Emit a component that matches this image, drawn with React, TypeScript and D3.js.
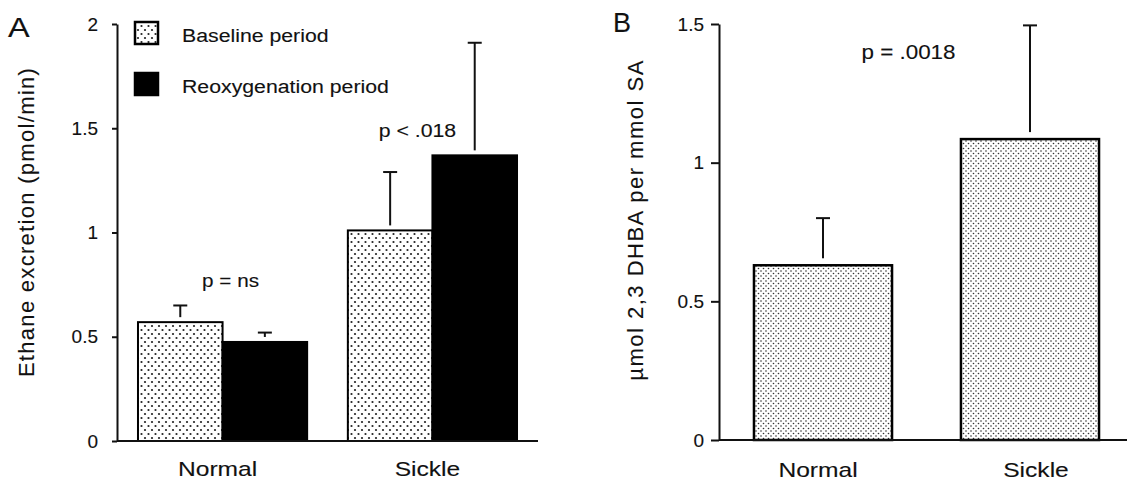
import React, { useEffect, useRef } from 'react';
import * as d3 from 'd3';

// Panel A: ethane excretion, two periods per group
const categories = ['Normal', 'Sickle'];
const seriesNames = ['Baseline period', 'Reoxygenation period'];
const baselineMean = [0.57, 1.01];
const baselineErr = [0.08, 0.28];
const reoxMean = [0.475, 1.37];
const reoxErr = [0.045, 0.54];
const ticksA = [0, 0.5, 1, 1.5, 2];
const pLabelsA = ['p = ns', 'p < .018'];

// Panel B: 2,3 DHBA per mmol SA
const dhbaMean = [0.63, 1.085];
const dhbaErr = [0.17, 0.41];
const ticksB = [0, 0.5, 1, 1.5];
const pLabelB = 'p = .0018';

const W = 1130;
const H = 481;
const FONT = '"Liberation Sans", Arial, Helvetica, sans-serif';
const INK = '#111';

// horizontal text, stretched a little like the scanned figure
const addText = (g, x, y, txt, size, sx = 1.15, anchor = 'start') =>
  g.append('text')
    .attr('transform', `translate(${x},${y}) scale(${sx},1)`)
    .attr('text-anchor', anchor)
    .style('font-family', FONT)
    .style('font-size', `${size}px`)
    .attr('fill', INK)
    .attr('stroke', INK)
    .attr('stroke-width', 0.12)
    .text(txt);

const App = () => {
  const svgRef = useRef<SVGSVGElement | null>(null);

  useEffect(() => {
    if (!svgRef.current) return;
    const svg = d3.select(svgRef.current);
    svg.selectAll('*').remove();

    // stipple fills
    const defs = svg.append('defs');
    const dotsA = defs.append('pattern')
      .attr('id', 'dotsA')
      .attr('patternUnits', 'userSpaceOnUse')
      .attr('width', 7)
      .attr('height', 8);
    dotsA.append('rect').attr('width', 7).attr('height', 8).attr('fill', '#fff');
    dotsA.append('circle').attr('cx', 1.5).attr('cy', 2).attr('r', 1.1).attr('fill', '#222');
    dotsA.append('circle').attr('cx', 5).attr('cy', 6).attr('r', 1.1).attr('fill', '#222');

    const dotsB = defs.append('pattern')
      .attr('id', 'dotsB')
      .attr('patternUnits', 'userSpaceOnUse')
      .attr('width', 5)
      .attr('height', 5);
    dotsB.append('rect').attr('width', 5).attr('height', 5).attr('fill', '#fff');
    dotsB.append('circle').attr('cx', 1).attr('cy', 1).attr('r', 0.8).attr('fill', '#333');
    dotsB.append('circle').attr('cx', 3.5).attr('cy', 3.5).attr('r', 0.8).attr('fill', '#333');

    const styleAxis = (g, fontSize) => {
      g.select('.domain').attr('stroke', INK).attr('stroke-width', 2);
      g.selectAll('.tick line').attr('stroke', INK).attr('stroke-width', 2);
      g.selectAll('.tick text')
        .attr('fill', INK)
        .attr('stroke', INK)
        .attr('stroke-width', 0.12)
        .style('font-family', FONT)
        .style('font-size', `${fontSize}px`);
    };

    // ---------- Panel A ----------
    const yA = d3.scaleLinear().domain([0, 2]).range([441, 24]);
    const xA = d3.scaleBand()
      .domain(categories)
      .range([117, 538])
      .paddingInner(0.194)
      .paddingOuter(0.1);
    const xSub = d3.scaleBand()
      .domain(seriesNames)
      .range([0, xA.bandwidth()]);

    const rowsA = categories.flatMap((c, i) => [
      { cat: c, s: seriesNames[0], v: baselineMean[i], e: baselineErr[i] },
      { cat: c, s: seriesNames[1], v: reoxMean[i], e: reoxErr[i] },
    ]);

    const gA = svg.append('g');

    // error bars first so bars sit on top
    rowsA.forEach(d => {
      const cx = xA(d.cat) + xSub(d.s) + xSub.bandwidth() / 2;
      const top = yA(d.v + d.e);
      gA.append('line')
        .attr('x1', cx).attr('x2', cx)
        .attr('y1', yA(d.v) - 5).attr('y2', top)
        .attr('stroke', INK).attr('stroke-width', 2);
      gA.append('line')
        .attr('x1', cx - 7).attr('x2', cx + 7)
        .attr('y1', top).attr('y2', top)
        .attr('stroke', INK).attr('stroke-width', 2);
    });

    gA.selectAll('rect.bar')
      .data(rowsA)
      .join('rect')
      .attr('class', 'bar')
      .attr('x', d => xA(d.cat) + xSub(d.s))
      .attr('y', d => yA(d.v))
      .attr('width', xSub.bandwidth())
      .attr('height', d => yA(0) - yA(d.v))
      .attr('fill', d => (d.s === seriesNames[0] ? 'url(#dotsA)' : '#000'))
      .attr('stroke', '#000')
      .attr('stroke-width', 2);

    const axA = gA.append('g')
      .attr('transform', 'translate(117,0)')
      .call(d3.axisLeft(yA)
        .tickValues(ticksA)
        .tickFormat(d => String(d))
        .tickSize(5)
        .tickSizeOuter(0)
        .tickPadding(14));
    styleAxis(axA, 19);

    gA.append('line')
      .attr('x1', 117).attr('x2', 538)
      .attr('y1', yA(0)).attr('y2', yA(0))
      .attr('stroke', INK).attr('stroke-width', 2);

    categories.forEach(c => {
      addText(gA, xA(c) + xA.bandwidth() / 2 - 5, 476, c, 20.5, 1.2, 'middle');
    });

    // p-value notes
    const pOffA = [8, -15];
    const pYA = [0.74, 1.46];
    const pSizeA = [18, 18.5];
    pLabelsA.forEach((t, i) => {
      addText(gA, xA(categories[i]) + xA.bandwidth() / 2 + pOffA[i], yA(pYA[i]), t, pSizeA[i], 1.15, 'middle');
    });

    // legend
    seriesNames.forEach((name, i) => {
      gA.append('rect')
        .attr('x', 135)
        .attr('y', 22 + i * 51)
        .attr('width', 23)
        .attr('height', 22)
        .attr('fill', i === 0 ? 'url(#dotsA)' : '#000')
        .attr('stroke', '#000')
        .attr('stroke-width', 2.5);
      addText(gA, 182, 42 + i * 51, name, 18.5, 1.15);
    });

    gA.append('text')
      .attr('transform', 'translate(34,222) rotate(-90)')
      .attr('text-anchor', 'middle')
      .style('font-family', FONT)
      .style('font-size', '22px')
      .style('letter-spacing', '1.3px')
      .attr('fill', INK)
      .attr('stroke', INK)
      .attr('stroke-width', 0.12)
      .text('Ethane excretion (pmol/min)');

    addText(gA, 8, 37, 'A', 27, 1.2);

    // ---------- Panel B ----------
    const yB = d3.scaleLinear().domain([0, 1.5]).range([440, 24]);
    const xB = d3.scaleBand()
      .domain(categories)
      .range([719, 1134])
      .paddingInner(0.333)
      .paddingOuter(0.169);

    const rowsB = categories.map((c, i) => ({ cat: c, v: dhbaMean[i], e: dhbaErr[i] }));
    const gB = svg.append('g');

    rowsB.forEach(d => {
      const cx = xB(d.cat) + xB.bandwidth() / 2;
      const top = yB(d.v + d.e);
      gB.append('line')
        .attr('x1', cx).attr('x2', cx)
        .attr('y1', yB(d.v) - 7).attr('y2', top)
        .attr('stroke', INK).attr('stroke-width', 2);
      gB.append('line')
        .attr('x1', cx - 7).attr('x2', cx + 7)
        .attr('y1', top).attr('y2', top)
        .attr('stroke', INK).attr('stroke-width', 2);
    });

    gB.selectAll('rect.bar')
      .data(rowsB)
      .join('rect')
      .attr('class', 'bar')
      .attr('x', d => xB(d.cat))
      .attr('y', d => yB(d.v))
      .attr('width', xB.bandwidth())
      .attr('height', d => yB(0) - yB(d.v))
      .attr('fill', 'url(#dotsB)')
      .attr('stroke', '#000')
      .attr('stroke-width', 2.5);

    const axB = gB.append('g')
      .attr('transform', 'translate(719,0)')
      .call(d3.axisLeft(yB)
        .tickValues(ticksB)
        .tickFormat(d => String(d))
        .tickSize(8)
        .tickSizeOuter(0)
        .tickPadding(7));
    styleAxis(axB, 19);

    gB.append('line')
      .attr('x1', 719).attr('x2', 1127)
      .attr('y1', yB(0)).attr('y2', yB(0))
      .attr('stroke', INK).attr('stroke-width', 2);

    categories.forEach((c, i) => {
      addText(gB, xB(c) + xB.bandwidth() / 2 + (i === 0 ? -5 : 6), 477, c, 20.5, 1.2, 'middle');
    });

    const midB = (xB(categories[0]) + xB(categories[1]) + xB.bandwidth()) / 2;
    addText(gB, midB - 18, yB(1.375), pLabelB, 19.5, 1.15, 'middle');

    gB.append('text')
      .attr('transform', 'translate(643,220) rotate(-90)')
      .attr('text-anchor', 'middle')
      .style('font-family', FONT)
      .style('font-size', '22px')
      .style('letter-spacing', '1.5px')
      .attr('fill', INK)
      .attr('stroke', INK)
      .attr('stroke-width', 0.12)
      .text('\u00b5mol 2,3 DHBA per mmol SA');

    addText(gB, 613, 32, 'B', 27, 1.0);
  }, []);

  return (
    <svg
      ref={svgRef}
      width={W}
      height={H}
      style={{ position: 'absolute', left: 0, top: 0, display: 'block', background: '#fff' }}
    />
  );
};

export default App;
